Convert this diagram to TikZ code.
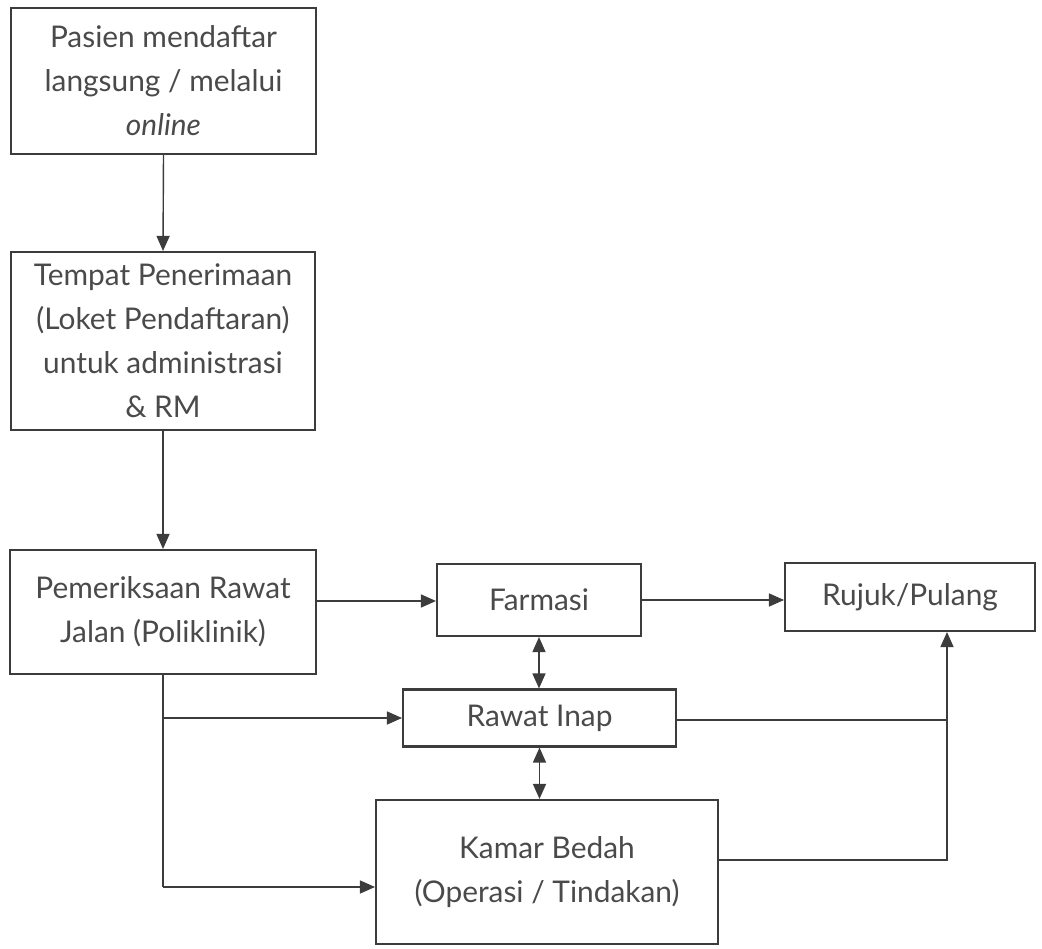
\documentclass[tikz,border=0pt]{standalone}
\usepackage{fontspec}
\setmainfont{Lato}
\usetikzlibrary{arrows.meta,calc}
\definecolor{ink}{HTML}{3C3C3C}
\definecolor{txt}{HTML}{4A4A4A}
\begin{document}
\begin{tikzpicture}[x=0.02cm,y=-0.02cm,
  box/.style={draw=ink,line width=1.2pt,align=center,text=txt,inner sep=2pt,
    font=\fontsize{17}{25}\selectfont},
  conn/.style={draw=ink,line width=0.8pt},
  arr/.style={conn,-{Triangle[length=0.3cm,width=0.26cm]}},
  darr/.style={conn,{Triangle[length=0.3cm,width=0.26cm]}-{Triangle[length=0.3cm,width=0.26cm]}}]
\useasboundingbox (0,0) rectangle (1042,949);
\node[box,minimum width=6.1cm,minimum height=2.92cm] (b1) at (163.5,81) {Pasien mendaftar\\langsung / melalui\\\textit{online}};
\node[box,minimum width=6.08cm,minimum height=3.56cm] (b2) at (163,341) {Tempat Penerimaan\\(Loket Pendaftaran)\\untuk administrasi\\\& RM};
\node[box,minimum width=6.12cm,minimum height=2.48cm] (b3) at (163,612) {Pemeriksaan Rawat\\Jalan (Poliklinik)};
\node[box,minimum width=4.08cm,minimum height=1.44cm] (farm) at (539,600) {Farmasi};
\node[box,minimum width=5.0cm,minimum height=1.36cm] (rujuk) at (910,597) {Rujuk/Pulang};
\node[box,minimum width=5.46cm,minimum height=1.14cm] (rawat) at (539.5,718) {Rawat Inap};
\node[box,minimum width=6.84cm,minimum height=2.88cm] (kamar) at (547,872) {Kamar Bedah\\(Operasi / Tindakan)};
\coordinate (split) at (b3.south |- rawat.west);
\coordinate (bend) at (b3.south |- 0,887);
\coordinate (joinR) at (947,720);
\coordinate (joinK) at (947,860);
\draw[arr] (b1.south) -- (b2.north);
\draw[arr] (b2.south) -- (b3.north);
\draw[arr] (b3.east |- 0,601) -- (farm.west |- 0,601);
\draw[arr] (farm.east |- 0,600) -- (rujuk.west |- 0,600);
\draw[darr] (farm.south) -- (farm.south |- rawat.north);
\draw[darr] (rawat.south) -- (rawat.south |- kamar.north);
\draw[conn] (b3.south) -- (bend);
\draw[arr] (split) -- (rawat.west);
\draw[arr] (bend) -- (kamar.west |- bend);
\draw[conn] (rawat.east |- joinR) -- (joinR);
\draw[arr] (kamar.east |- joinK) -- (joinK) -- (joinK |- rujuk.south);
\end{tikzpicture}
\end{document}
